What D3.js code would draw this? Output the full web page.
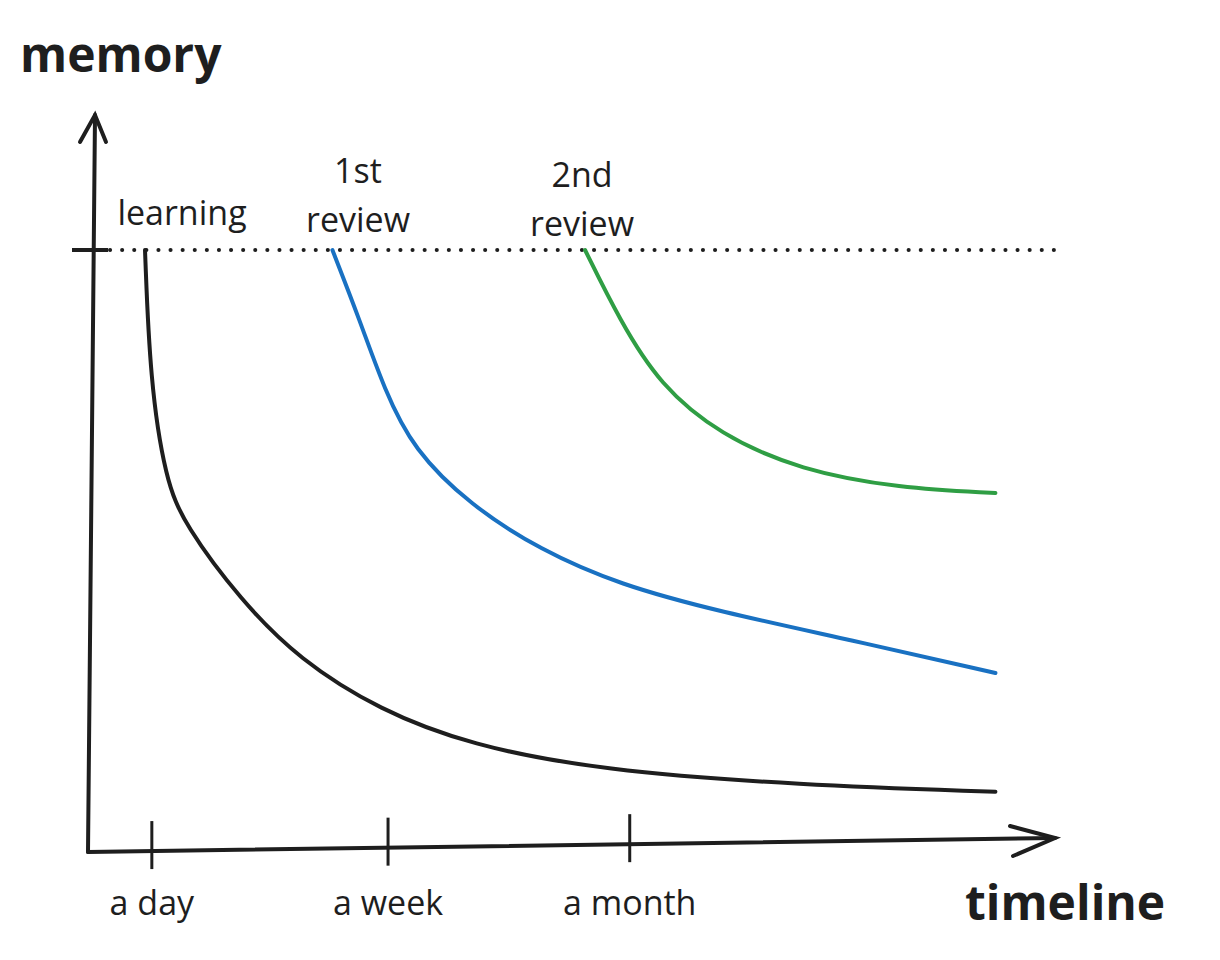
<!DOCTYPE html>
<html>
<head>
<meta charset="utf-8">
<script src="https://cdn.jsdelivr.net/npm/d3@7"></script>
<style>body{margin:0;background:#fff}</style>
</head>
<body>
<script>
// chart units: x 0..100 along timeline, y 0..100 memory (100 = just learned)
var tickLabels = ["a day", "a week", "a month"];
var tickPos = [7.0, 32.9, 59.4];
var curveColors = ["#1e1e1e", "#1971c2", "#2f9e44"];
var learningX = [6.25, 6.8, 8.5, 10.6, 16.7, 23.2, 32, 41.9, 56.1, 78.1, 99.5];
var learningY = [100, 78.3, 61.7, 54.2, 41.7, 31.7, 23.3, 17.5, 13.3, 10.8, 9.7];
var review1X = [26.8, 29.8, 32.5, 35.7, 41.9, 49.6, 58.3, 69.3, 83.6, 99.5];
var review1Y = [100, 88.3, 76.7, 66.7, 57.5, 50, 44.2, 39.7, 35, 29.5];
var review2X = [54.5, 58.3, 62.7, 69.3, 78.1, 89.0, 99.5];
var review2Y = [100, 88.3, 77.5, 69.2, 63.3, 60.3, 59.5];

var W = 1220, H = 960;
var font = "'Comic Sans MS', 'Open Sans', sans-serif";
var svg = d3.select("body").append("svg").attr("width", W).attr("height", H);
var x = d3.scaleLinear().domain([0, 100]).range([88, 1000]);
var y = d3.scaleLinear().domain([0, 100]).range([850, 250]);

var ink = "#1e1e1e";
// axes
svg.append("path").attr("d", "M88,852 L95,115").attr("stroke", ink).attr("stroke-width", 4).attr("fill", "none").attr("stroke-linecap", "round");
svg.append("path").attr("d", "M80,142 L95,115 L106,142").attr("stroke", ink).attr("stroke-width", 4).attr("fill", "none").attr("stroke-linecap", "round");
svg.append("path").attr("d", "M88,852 L1055,838").attr("stroke", ink).attr("stroke-width", 4).attr("fill", "none").attr("stroke-linecap", "round");
svg.append("path").attr("d", "M1010,826 L1055,838 L1013,856").attr("stroke", ink).attr("stroke-width", 4).attr("fill", "none").attr("stroke-linecap", "round");

// level tick + dotted line
svg.append("line").attr("x1", 72).attr("x2", 108).attr("y1", y(100)).attr("y2", y(100)).attr("stroke", ink).attr("stroke-width", 4);
svg.append("line").attr("x1", 110).attr("x2", 1060).attr("y1", y(100)).attr("y2", y(100))
  .attr("stroke", ink).attr("stroke-width", 4).attr("stroke-dasharray", "0.1 12").attr("stroke-linecap", "round");

// ticks
tickPos.forEach(function (t, i) {
  var px = x(t), py = 850 - (px - 88) * 14 / 967;
  svg.append("line").attr("x1", px).attr("x2", px).attr("y1", py - 28).attr("y2", py + 20).attr("stroke", ink).attr("stroke-width", 3);
  svg.append("text").attr("x", px).attr("y", 915).attr("text-anchor", "middle")
    .style("font-family", font).style("font-size", "34px").attr("fill", ink).text(tickLabels[i]);
});

// curves
var line = d3.line().x(function (d) { return x(d[0]); }).y(function (d) { return y(d[1]); }).curve(d3.curveBasis);
var sets = [[learningX, learningY], [review1X, review1Y], [review2X, review2Y]];
sets.forEach(function (s, i) {
  var pts = s[0].map(function (v, j) { return [v, s[1][j]]; });
  pts.unshift(pts[0]); pts.push(pts[pts.length - 1]); // keep basis endpoints
  svg.append("path").attr("d", line(pts)).attr("stroke", curveColors[i]).attr("stroke-width", 4).attr("fill", "none").attr("stroke-linecap", "round");
});

// curve labels
var labelX = [182, 358, 582];
var labels = [["learning"], ["1st", "review"], ["2nd", "review"]];
labels.forEach(function (lines, i) {
  lines.forEach(function (t, j) {
    var base = i === 0 ? 225 : (i === 1 ? 183 : 187);
    svg.append("text").attr("x", labelX[i]).attr("y", base + j * 49).attr("text-anchor", "middle")
      .style("font-family", font).style("font-size", "34px").attr("fill", ink).text(t);
  });
});

svg.append("text").attr("x", 20).attr("y", 72).style("font-family", font).style("font-size", "48px").style("font-weight", "bold").attr("fill", ink).text("memory");
svg.append("text").attr("x", 965).attr("y", 920).style("font-family", font).style("font-size", "48px").style("font-weight", "bold").attr("fill", ink).text("timeline");
</script>
</body>
</html>
